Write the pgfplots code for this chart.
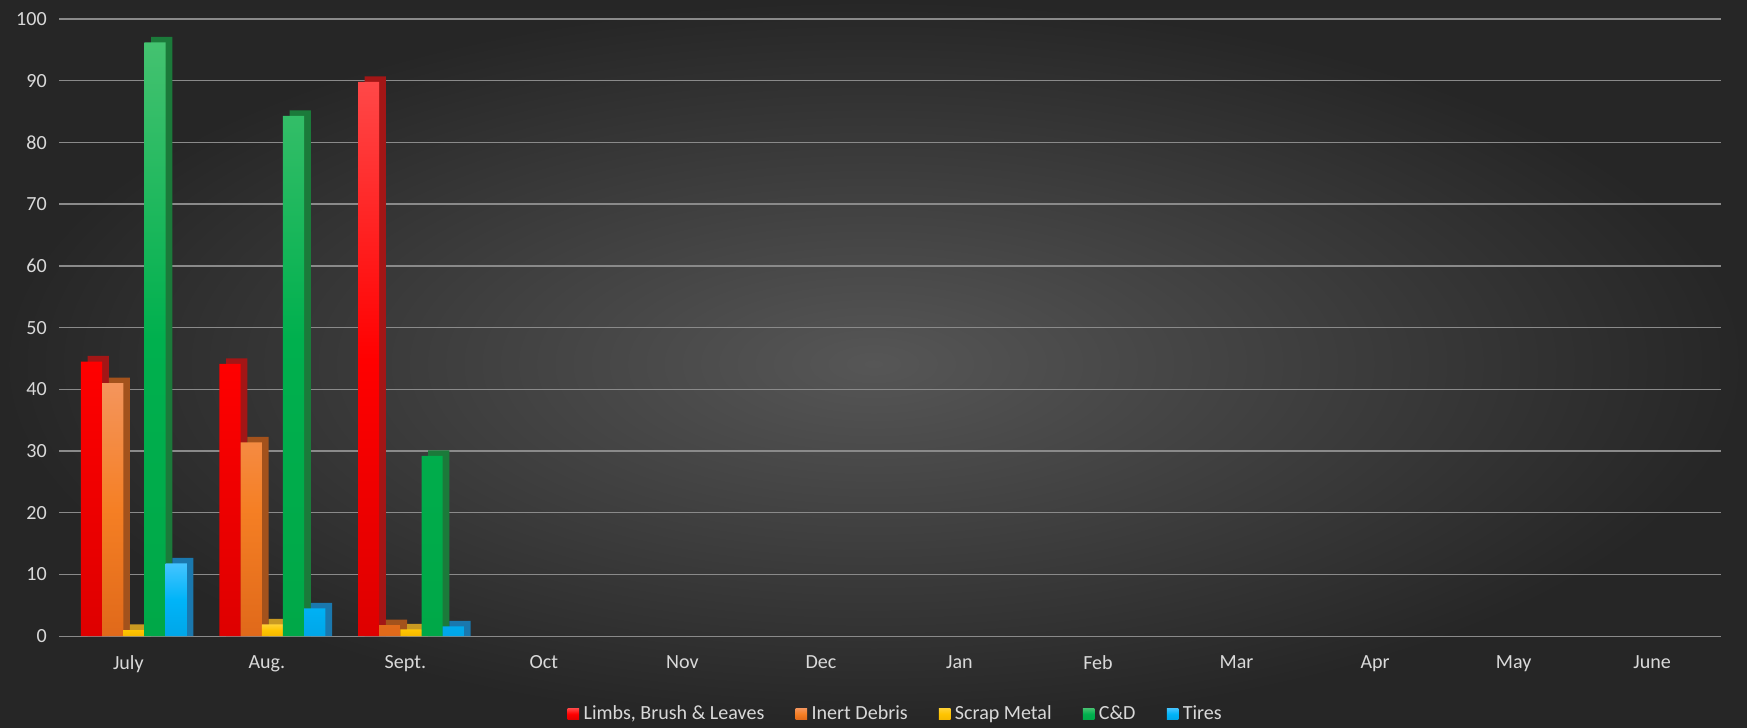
\documentclass[border=0pt]{standalone}
\usepackage{pgfplots}
\pgfplotsset{compat=1.18}
\usepackage{pgfplotstable}
\usepackage{fontspec}
\setmainfont{Carlito}
\definecolor{bgin}{HTML}{565656}
\definecolor{bgout}{HTML}{262626}
\definecolor{txt}{HTML}{D9D9D9}
\definecolor{gridc}{HTML}{8A8A8A}
\definecolor{rT}{HTML}{FF4848}\definecolor{rM}{HTML}{FF0000}\definecolor{rB}{HTML}{DE0000}\definecolor{rS}{HTML}{A31616}
\definecolor{oT}{HTML}{F4955C}\definecolor{oM}{HTML}{F57F24}\definecolor{oB}{HTML}{E0691A}\definecolor{oS}{HTML}{A3521C}
\definecolor{yT}{HTML}{FFD234}\definecolor{yM}{HTML}{FFC400}\definecolor{yB}{HTML}{F5B800}\definecolor{yS}{HTML}{C99A22}
\definecolor{gT}{HTML}{44C270}\definecolor{gM}{HTML}{00B04E}\definecolor{gB}{HTML}{00A848}\definecolor{gS}{HTML}{1B7A3A}
\definecolor{bT}{HTML}{44C4FF}\definecolor{bM}{HTML}{00B4F8}\definecolor{bB}{HTML}{00A6E8}\definecolor{bS}{HTML}{1A78AE}
\pgfplotstableread{
x limbs inert scrap cd tires
0 44.5 41.0 1.0 96.2 11.8
1 44.1 31.4 1.9 84.3 4.5
2 89.8 1.8 1.1 29.2 1.6
}\datatab
\begin{document}
\begin{tikzpicture}[x=1pt,y=1pt]
\shade[inner color=bgin, outer color=bgout] (0,0) rectangle (784,326.5);
\useasboundingbox (0,0) rectangle (784,326.5);
\begin{axis}[
  at={(26.5pt,41pt)}, anchor=south west,
  scale only axis, width=746pt, height=277pt,
  xmin=-0.5, xmax=11.5, ymin=0, ymax=100,
  clip=false,
  axis line style={draw=none},
  major tick length=0pt,
  ymajorgrids, grid style={gridc, line width=0.6pt},
  ytick={0,10,...,100},
  xtick={0,1,...,11},
  xticklabels={July,Aug.,Sept.,Oct,Nov,Dec,Jan,Feb,Mar,Apr,May,June},
  ticklabel style={font=\fontsize{9}{11}\selectfont, text=txt},
  /pgf/number format/assume math mode=true,
  yticklabel style={xshift=-2pt},
  xticklabel style={yshift=-5pt},
  ybar, bar width=9.5pt,
  every axis plot/.append style={draw=none},
  legend style={draw=none, fill=none, text=txt, font=\fontsize{9}{11}\selectfont,
    at={(0.504,-0.126)}, anchor=center, legend columns=-1,
    /tikz/every even column/.append style={column sep=12pt}},
  legend image code/.code={\fill[#1] (0pt,-2.6pt) rectangle (5.2pt,2.6pt);},
]
% side faces
\addplot[forget plot, fill=rS, bar shift=-13.5pt] table[x=x, y expr=\thisrow{limbs}+0.9] {\datatab};
\addplot[forget plot, fill=oS, bar shift=-4pt] table[x=x, y expr=\thisrow{inert}+0.9] {\datatab};
\addplot[forget plot, fill=yS, bar shift=5.5pt] table[x=x, y expr=\thisrow{scrap}+0.9] {\datatab};
\addplot[forget plot, fill=gS, bar shift=15pt] table[x=x, y expr=\thisrow{cd}+0.9] {\datatab};
\addplot[forget plot, fill=bS, bar shift=24.5pt] table[x=x, y expr=\thisrow{tires}+0.9] {\datatab};
% front faces
\addplot[top color=rT, bottom color=rB, middle color=rM, bar shift=-16.5pt] table[x=x, y=limbs] {\datatab};
\addlegendentry{Limbs, Brush \& Leaves}
\addplot[top color=oT, bottom color=oB, middle color=oM, bar shift=-7pt] table[x=x, y=inert] {\datatab};
\addlegendentry{Inert Debris}
\addplot[top color=yT, bottom color=yB, middle color=yM, bar shift=2.5pt] table[x=x, y=scrap] {\datatab};
\addlegendentry{Scrap Metal}
\addplot[top color=gT, bottom color=gB, middle color=gM, bar shift=12pt] table[x=x, y=cd] {\datatab};
\addlegendentry{C\&D}
\addplot[top color=bT, bottom color=bB, middle color=bM, bar shift=21.5pt] table[x=x, y=tires] {\datatab};
\addlegendentry{Tires}
\end{axis}
\end{tikzpicture}
\end{document}
